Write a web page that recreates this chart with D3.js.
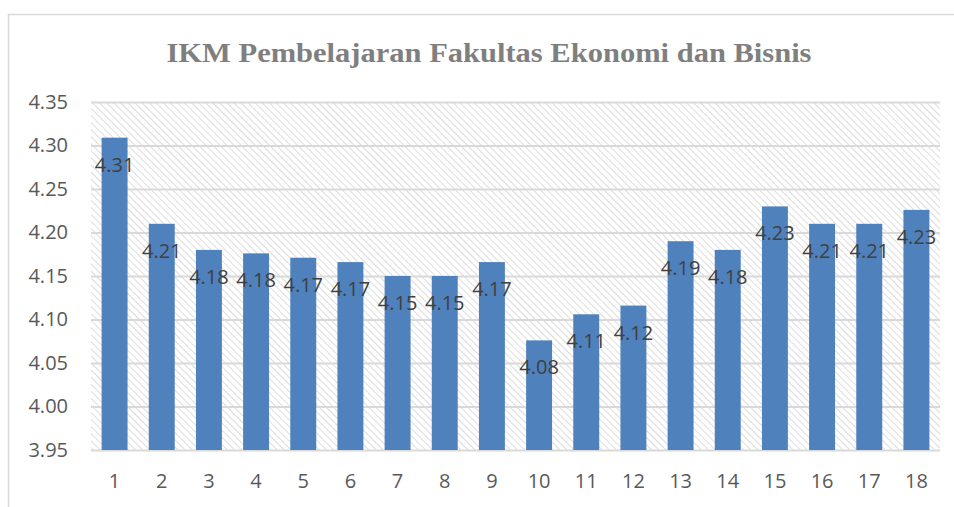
<!DOCTYPE html>
<html>
<head>
<meta charset="utf-8">
<script src="https://cdn.jsdelivr.net/npm/d3@7"></script>
<style>
    body { margin: 0; background: #fff; }
    svg { display: block; }
</style>
</head>
<body>
<svg id="chart" width="954" height="507"></svg>
<script>
// data
var categories = ['1', '2', '3', '4', '5', '6', '7', '8', '9', '10', '11', '12', '13', '14', '15', '16', '17', '18'];
var scores = [4.309, 4.21, 4.18, 4.176, 4.171, 4.166, 4.15, 4.15, 4.166, 4.076, 4.106, 4.116, 4.19, 4.18, 4.23, 4.21, 4.21, 4.226];
var yTicks = [3.95, 4.00, 4.05, 4.10, 4.15, 4.20, 4.25, 4.30, 4.35];
var title = 'IKM Pembelajaran Fakultas Ekonomi dan Bisnis';

var svg = d3.select('#chart');
var margin = { top: 102, right: 14, bottom: 57, left: 91 };
var width = 954 - margin.left - margin.right;
var height = 507 - margin.top - margin.bottom;

// chart border (runs off the right side)
svg.append('rect')
    .attr('x', 8.5)
    .attr('y', 14.5)
    .attr('width', 980)
    .attr('height', 520)
    .attr('fill', 'none')
    .attr('stroke', '#d9d9d9')
    .attr('stroke-width', 1.5);

/* hatch for plot background */
var defs = svg.append('defs');
var pattern = defs.append('pattern')
    .attr('id', 'hatch')
    .attr('patternUnits', 'userSpaceOnUse')
    .attr('width', 5)
    .attr('height', 5)
    .attr('patternTransform', 'rotate(-45)');
pattern.append('rect')
    .attr('width', 5)
    .attr('height', 5)
    .attr('fill', '#fff');
pattern.append('line')
    .attr('x1', 0).attr('y1', 0)
    .attr('x2', 0).attr('y2', 5)
    .attr('stroke', '#d4d4d4')
    .attr('stroke-width', 1.6);

svg.append('text')
    .attr('x', 489)
    .attr('y', 62)
    .attr('text-anchor', 'middle')
    .attr('textLength', 645)
    .attr('lengthAdjust', 'spacingAndGlyphs')
    .style('font-family', '"Liberation Serif", serif')
    .style('font-weight', 'bold')
    .style('font-size', '28px')
    .style('fill', '#7f7f7f')
    .text(title);

var g = svg.append('g')
    .attr('transform', 'translate(' + margin.left + ',' + margin.top + ')');

var x = d3.scaleBand()
    .domain(categories)
    .range([0, width])
    .paddingInner(0.45)
    .paddingOuter(0.225);

var y = d3.scaleLinear()
    .domain([3.95, 4.35])
    .range([height, 0]);

g.append('rect')
    .attr('width', width)
    .attr('height', height)
    .attr('fill', 'url(#hatch)');

var yAxis = g.append('g')
    .call(d3.axisLeft(y)
        .tickValues(yTicks)
        .tickFormat(d3.format('.2f'))
        .tickSizeInner(-width)
        .tickSizeOuter(0)
        .tickPadding(23));
yAxis.select('.domain').remove();
yAxis.selectAll('line')
    .attr('stroke', '#d9d9d9')
    .attr('stroke-width', 2);
yAxis.selectAll('text')
    .style('font-family', '"Open Sans", sans-serif')
    .style('font-size', '20px')
    .style('fill', '#595959');

var xAxis = g.append('g')
    .attr('transform', 'translate(0,' + height + ')')
    .call(d3.axisBottom(x).tickSize(0).tickPadding(24));
xAxis.select('.domain').remove();
xAxis.selectAll('text')
    .style('font-family', '"Open Sans", sans-serif')
    .style('font-size', '20px')
    .style('fill', '#595959');

var data = categories.map(function(c, i) {
    return { cat: c, value: scores[i] };
});

g.selectAll('rect.bar')
    .data(data)
    .enter()
    .append('rect')
    .attr('class', 'bar')
    .attr('x', function(d) { return x(d.cat); })
    .attr('y', function(d) { return y(d.value); })
    .attr('width', x.bandwidth())
    .attr('height', function(d) { return height - y(d.value); })
    .attr('fill', '#4f81bd');

// value labels, inside end of each bar
g.selectAll('text.label')
    .data(data)
    .enter()
    .append('text')
    .attr('class', 'label')
    .attr('x', function(d) { return x(d.cat) + x.bandwidth() / 2; })
    .attr('y', function(d) { return y(d.value) + 34; })
    .attr('text-anchor', 'middle')
    .style('font-family', '"Open Sans", sans-serif')
    .style('font-size', '20px')
    .style('fill', '#404040')
    .text(function(d) { return d3.format('.2f')(d.value); });
</script>
</body>
</html>
